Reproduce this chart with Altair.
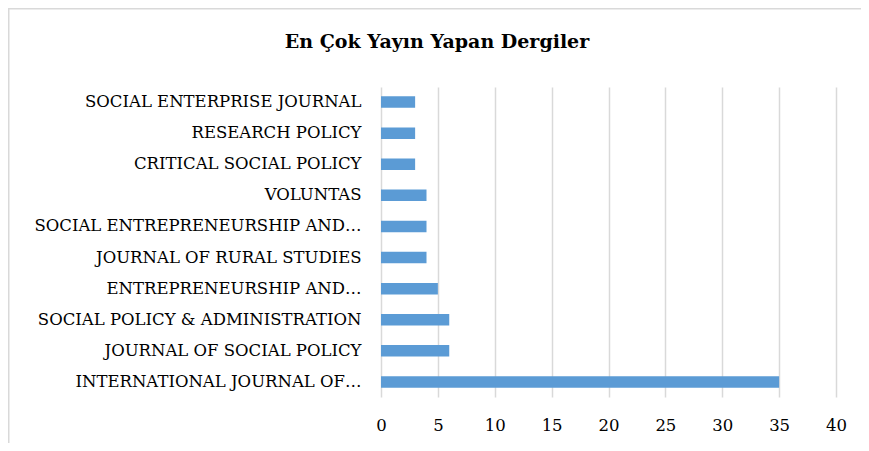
import altair as alt
import pandas as pd

journals = [
    "SOCIAL ENTERPRISE JOURNAL",
    "RESEARCH POLICY",
    "CRITICAL SOCIAL POLICY",
    "VOLUNTAS",
    "SOCIAL ENTREPRENEURSHIP AND…",
    "JOURNAL OF RURAL STUDIES",
    "ENTREPRENEURSHIP AND…",
    "SOCIAL POLICY & ADMINISTRATION",
    "JOURNAL OF SOCIAL POLICY",
    "INTERNATIONAL JOURNAL OF…",
]
counts = [3, 3, 3, 4, 4, 4, 5, 6, 6, 35]
x_ticks = [0, 5, 10, 15, 20, 25, 30, 35, 40]
title_text = ["En Çok Yayın Yapan Dergiler"]

df = pd.DataFrame({"journal": journals, "count": counts})

FONT = "DejaVu Serif"

bars = alt.Chart(df).mark_bar(color="#5B9BD5").encode(
    x=alt.X("count:Q", scale=alt.Scale(domain=[0, 40], nice=False),
            axis=alt.Axis(values=x_ticks, title=None, grid=True, gridColor="#d9d9d9",
                          gridWidth=1.5, domain=False, ticks=False, labelPadding=20,
                          labelFlush=False,
                          labelFontSize=16.5, labelFont=FONT, labelColor="#000000")),
    y=alt.Y("journal:N", sort=journals,
            scale=alt.Scale(paddingInner=0.63, paddingOuter=0.3),
            axis=alt.Axis(title=None, domain=False, ticks=False, labelPadding=20,
                          labelFontSize=16.5, labelFont=FONT, labelColor="#000000",
                          labelLimit=400)),
)

frame_df = pd.DataFrame({"a": [0]})
top_line = alt.Chart(frame_df).mark_rule(stroke="#d9d9d9", strokeWidth=1.5).encode(
    x=alt.value(-373), x2=alt.value(480), y=alt.value(-78.25)
)
left_line = alt.Chart(frame_df).mark_rule(stroke="#d9d9d9", strokeWidth=1.5).encode(
    x=alt.value(-372.25), y=alt.value(-79), y2=alt.value(356)
)

title = alt.Chart(pd.DataFrame({"t": title_text})).mark_text(
    font=FONT, fontSize=19, fontWeight="bold", color="#000000",
    align="center", baseline="middle"
).encode(text="t:N", x=alt.value(56), y=alt.value(-45))

chart = alt.layer(top_line, left_line, bars, title).properties(
    width=455, height=310,
    autosize=alt.AutoSizeParams(type="none"),
    padding={"left": 373, "top": 79, "right": 25, "bottom": 46},
).configure_view(stroke=None)

chart.save("out.html", embed_options={"renderer": "svg", "actions": False})
